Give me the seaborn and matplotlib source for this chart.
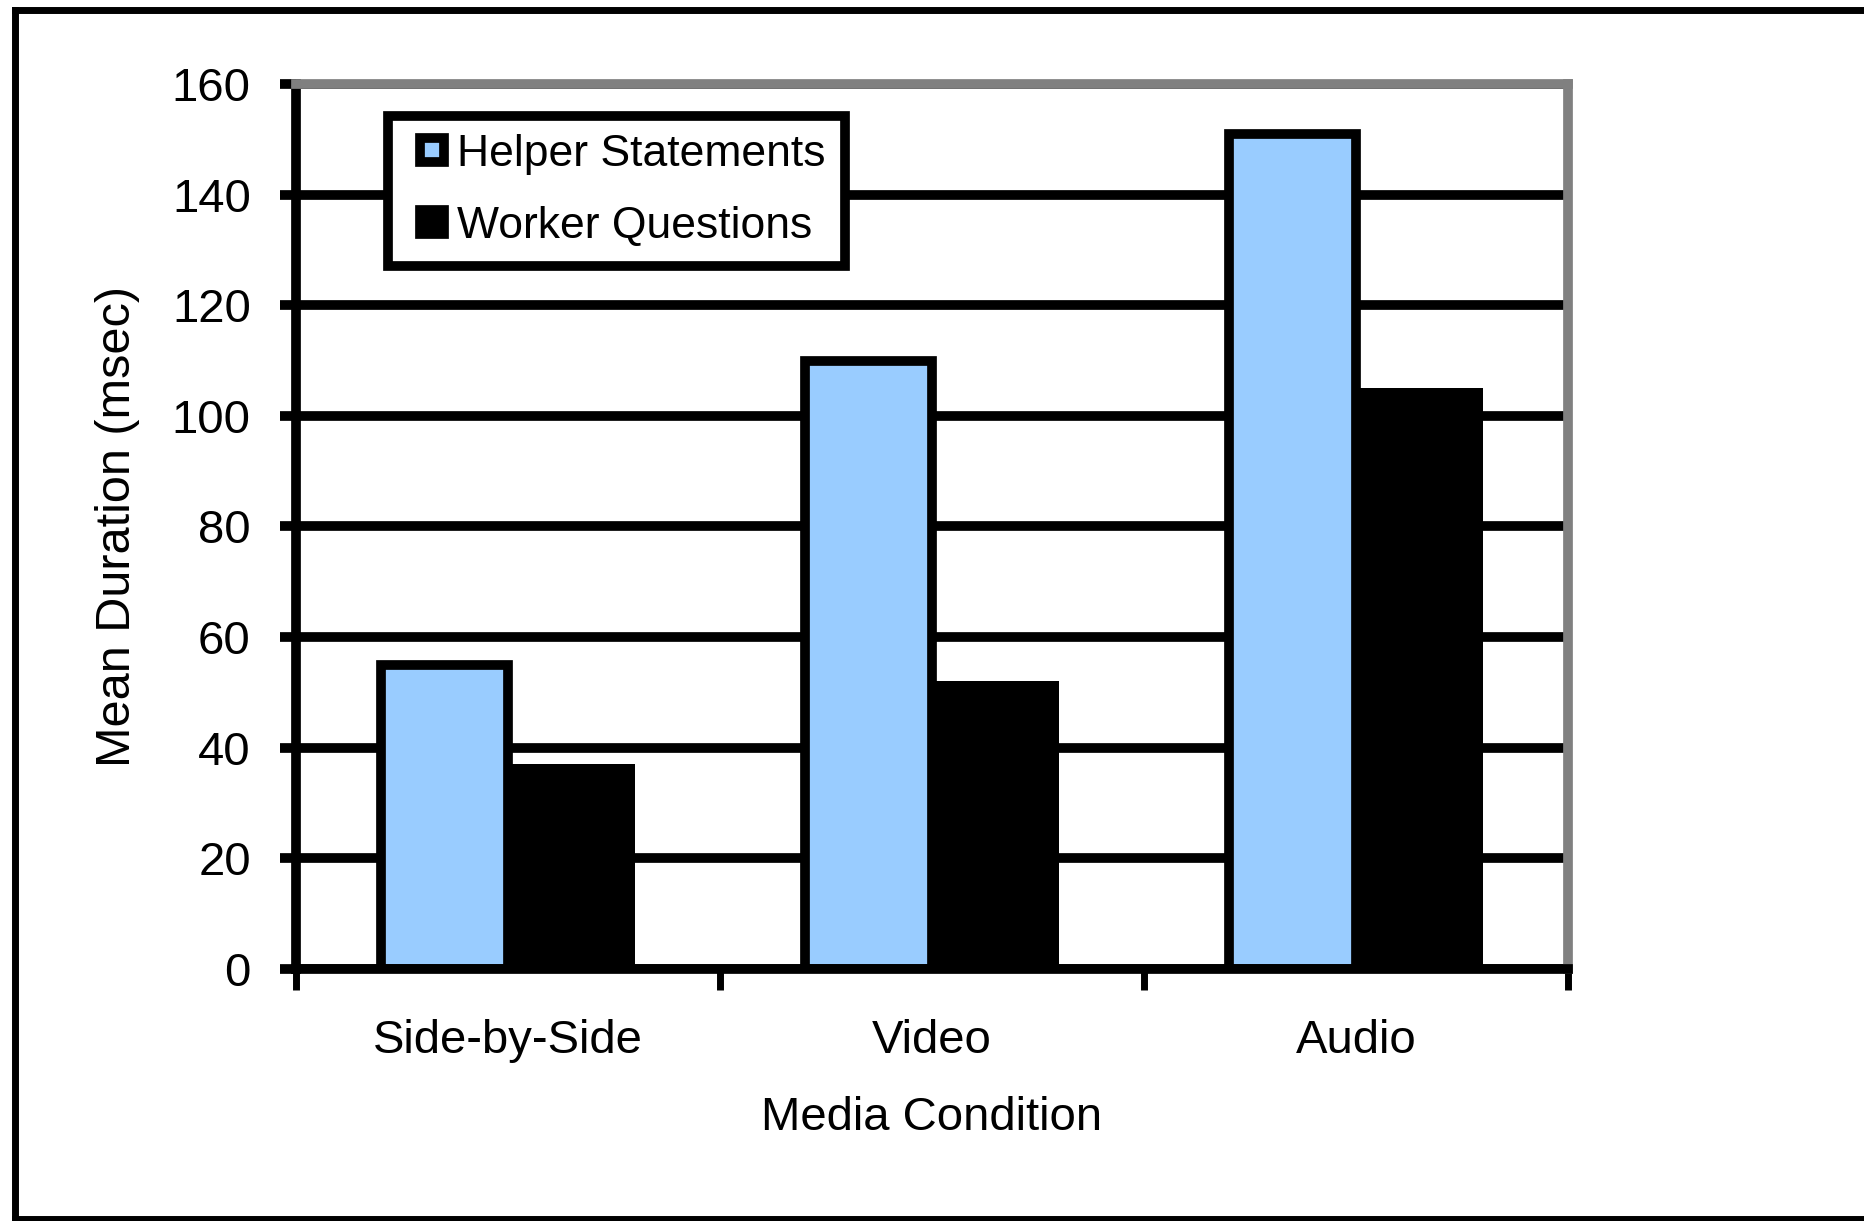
import matplotlib
matplotlib.use("Agg")
import matplotlib.pyplot as plt
import seaborn as sns
import pandas as pd
from matplotlib.lines import Line2D
from matplotlib.patches import Patch, Rectangle
from matplotlib.legend_handler import HandlerPatch

# Data
conditions = ["Side-by-Side", "Video", "Audio"]
series_names = ["Helper Statements", "Worker Questions"]
helper_statements = [55, 110, 151]
worker_questions = [37, 52, 105]
y_ticks = [0, 20, 40, 60, 80, 100, 120, 140, 160]
series_colors = ["#99CCFF", "#000000"]

df = pd.DataFrame({
    "Media Condition": conditions * 2,
    "Mean Duration (msec)": helper_statements + worker_questions,
    "Series": [series_names[0]] * len(conditions) + [series_names[1]] * len(conditions),
})

sns.set_theme(style="white")
plt.rcParams["font.family"] = ["Liberation Sans", "DejaVu Sans"]

W, H = 1865, 1221
fig = plt.figure(figsize=(W / 100, H / 100), dpi=100)
fig.patch.set_facecolor("white")

ax_left, ax_right, ax_top, ax_bottom = 296, 1568, 84, 969
ax = fig.add_axes([ax_left / W, 1 - ax_bottom / H,
                   (ax_right - ax_left) / W, (ax_bottom - ax_top) / H])

sns.barplot(data=df, x="Media Condition", y="Mean Duration (msec)",
            hue="Series", palette=series_colors, saturation=1,
            width=0.6, gap=0, edgecolor="black", linewidth=7,
            ax=ax, legend=False, zorder=2)

# worker bars are solid black: no outline needed
for bar in ax.containers[1]:
    bar.set_linewidth(0)

ax.set_xlim(-0.5, len(conditions) - 0.5)
ax.set_ylim(y_ticks[0], y_ticks[-1])
ax.set_yticks(y_ticks)
ax.set_facecolor("white")

# horizontal grid
ax.set_axisbelow(True)
ax.yaxis.grid(True, color="black", linewidth=7)
ax.xaxis.grid(False)

# spines
for side in ["left", "bottom"]:
    ax.spines[side].set_color("black")
    ax.spines[side].set_linewidth(7)
for side in ["top", "right"]:
    ax.spines[side].set_color("#808080")
    ax.spines[side].set_linewidth(7)
for s in ax.spines.values():
    s.set_zorder(3)

# ticks
ax.tick_params(axis="y", which="major", left=True, length=11.5, width=7,
               color="black", pad=21, labelsize=34, labelcolor="black")
ax.set_xticks([i - 0.5 for i in range(len(conditions) + 1)], minor=True)
ax.tick_params(axis="x", which="major", bottom=True, length=0, pad=36,
               labelsize=34, labelcolor="black")
ax.tick_params(axis="x", which="minor", bottom=True, length=15, width=5,
               color="black")

ax.set_xlabel("Media Condition", fontsize=34, color="black", labelpad=24)
ax.set_ylabel("Mean Duration (msec)", fontsize=35, color="black", va="center")
ax.yaxis.set_label_coords((118 - ax_left) / (ax_right - ax_left), 0.5)


# legend keys: small outlined squares sitting at the right of the key box
def square_key(legend, orig_handle, xdescent, ydescent, width, height, fontsize):
    return Rectangle((-xdescent + width - height, -ydescent), height, height)


handles = [Patch(facecolor=c, edgecolor="black", linewidth=7) for c in series_colors]
leg = ax.legend(handles, series_names, loc="upper left",
                bbox_to_anchor=(388 / W, 1 - 115.5 / H),
                bbox_transform=fig.transFigure, borderaxespad=0,
                fontsize=32, frameon=True, fancybox=False, framealpha=1,
                edgecolor="black", borderpad=0.42, labelspacing=0.69,
                handlelength=0.84, handleheight=0.45, handletextpad=0.3,
                handler_map={Patch: HandlerPatch(patch_func=square_key)})
leg.get_frame().set_linewidth(7)
leg.set_zorder(5)
for t in leg.get_texts():
    t.set_color("black")

# outer frame of the figure
frame_kw = dict(transform=fig.transFigure, color="black", linewidth=5,
                solid_capstyle="projecting")
fig.add_artist(Line2D([15.5 / W, 1], [1 - 9.5 / H, 1 - 9.5 / H], **frame_kw))
fig.add_artist(Line2D([15.5 / W, 1], [1 - 1219 / H, 1 - 1219 / H], **frame_kw))
fig.add_artist(Line2D([15.5 / W, 15.5 / W], [1 - 9.5 / H, 1 - 1219 / H], **frame_kw))

fig.savefig("out.png", dpi=100, facecolor="white")
